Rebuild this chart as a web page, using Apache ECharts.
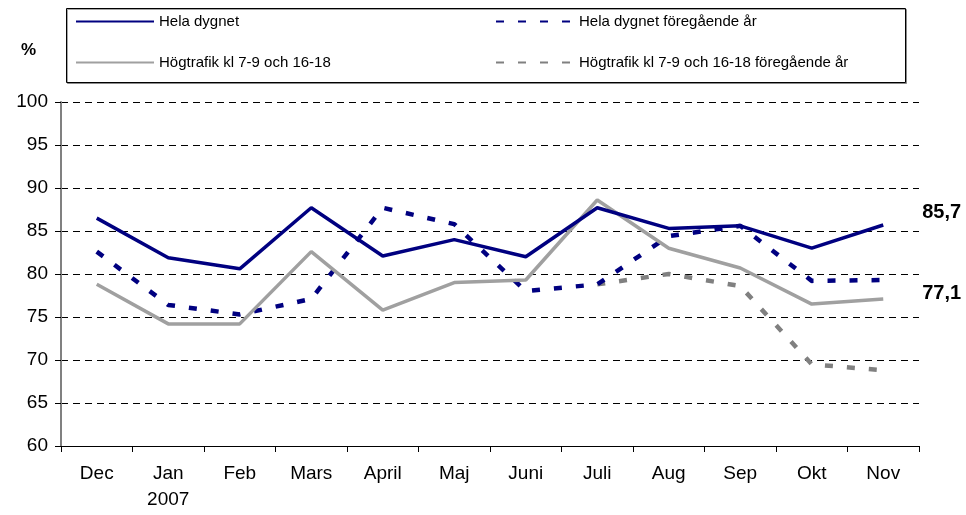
<!DOCTYPE html>
<html>
<head>
<meta charset="utf-8">
<script src="https://cdn.jsdelivr.net/npm/echarts@6/dist/echarts.min.js"></script>
<style>
  html, body { margin: 0; padding: 0; background: #fff; }
  #chart { width: 966px; height: 515px; }
</style>
</head>
<body>
<div id="chart"></div>
<script>
// Months (Dec 2006 - Nov 2007)
const months = ['Dec', 'Jan\n2007', 'Feb', 'Mars', 'April', 'Maj', 'Juni', 'Juli', 'Aug', 'Sep', 'Okt', 'Nov'];

// Share in % per month
const helaDygnet = [86.5, 81.9, 80.6, 87.7, 82.1, 84.0, 82.0, 87.7, 85.3, 85.6, 83.0, 85.7];
const helaDygnetPrev = [82.6, 76.4, 75.3, 77.1, 87.7, 85.8, 78.0, 78.8, 84.4, 85.6, 79.2, 79.3];
const hogtrafik = [78.8, 74.2, 74.2, 82.6, 75.8, 79.0, 79.3, 88.6, 83.0, 80.7, 76.5, 77.1];
const hogtrafikPrev = [null, null, null, null, null, null, null, 78.8, 80.0, 78.6, 69.5, 68.8];

const yTicks = { min: 60, max: 100, step: 5 };

const chart = echarts.init(document.getElementById('chart'));
const font = 'Liberation Sans, Arial, sans-serif';

const commaFmt = (p) => p.value.toFixed(1).replace('.', ',');

const legendBase = {
  top: 9, orient: 'vertical',
  itemWidth: 78, itemHeight: 14, itemGap: 26,
  itemStyle: { opacity: 0 },
  textStyle: { fontSize: 15, color: '#000', fontFamily: font }
};

chart.setOption({
  animation: false,
  textStyle: { fontFamily: font },
  grid: { left: 61, right: 47, top: 102, bottom: 69 },
  graphic: [
    {
      type: 'rect',
      shape: { x: 66.5, y: 8.5, width: 839, height: 74 },
      style: { fill: '#fff', stroke: '#000', lineWidth: 1, shadowColor: 'rgba(0,0,0,0.35)', shadowOffsetX: 1, shadowOffsetY: 1 },
      z: -1
    }
  ],
  legend: [
    Object.assign({ left: 70, data: ['Hela dygnet', 'Högtrafik kl 7-9 och 16-18'] }, legendBase),
    Object.assign({ left: 490, data: ['Hela dygnet föregående år', 'Högtrafik kl 7-9 och 16-18 föregående år'] }, legendBase)
  ],
  xAxis: {
    type: 'category',
    data: months,
    boundaryGap: true,
    axisLine: { lineStyle: { color: '#000', width: 1 } },
    axisTick: { show: true, length: 6, lineStyle: { color: '#000' } },
    axisLabel: { fontSize: 19, color: '#000', margin: 15, lineHeight: 26, fontFamily: font },
    splitLine: { show: false }
  },
  yAxis: {
    type: 'value',
    min: yTicks.min, max: yTicks.max, interval: yTicks.step,
    name: '%',
    nameLocation: 'end',
    nameGap: 43,
    nameTextStyle: { fontSize: 17, fontWeight: 'bold', color: '#000', align: 'right', padding: [0, 25, 0, 0], fontFamily: font },
    axisLine: { show: true, lineStyle: { color: '#808080', width: 2 } },
    axisTick: { show: true, length: 6, lineStyle: { color: '#000' } },
    axisLabel: { fontSize: 19, color: '#000', margin: 13, fontFamily: font },
    splitLine: { show: true, lineStyle: { color: '#000', width: 1, type: [7, 5] } }
  },
  series: [
    {
      name: 'Högtrafik kl 7-9 och 16-18 föregående år',
      type: 'line', data: hogtrafikPrev, symbol: 'none', connectNulls: false,
      lineStyle: { color: '#808080', width: 4.5, type: [8, 14] },
      itemStyle: { color: '#808080' },
      z: 2
    },
    {
      name: 'Hela dygnet föregående år',
      type: 'line', data: helaDygnetPrev, symbol: 'none',
      lineStyle: { color: '#000080', width: 4.5, type: [8, 14] },
      itemStyle: { color: '#000080' },
      z: 3
    },
    {
      name: 'Högtrafik kl 7-9 och 16-18',
      type: 'line', data: hogtrafik, symbol: 'none',
      lineStyle: { color: '#a0a0a0', width: 3.5 },
      itemStyle: { color: '#a0a0a0' },
      endLabel: { show: true, formatter: commaFmt, fontSize: 20, fontWeight: 'bold', color: '#000', offset: [31, -5], fontFamily: font },
      z: 4
    },
    {
      name: 'Hela dygnet',
      type: 'line', data: helaDygnet, symbol: 'none',
      lineStyle: { color: '#000080', width: 3.5 },
      itemStyle: { color: '#000080' },
      endLabel: { show: true, formatter: commaFmt, fontSize: 20, fontWeight: 'bold', color: '#000', offset: [31, -12], fontFamily: font },
      z: 5
    }
  ]
});
</script>
</body>
</html>
